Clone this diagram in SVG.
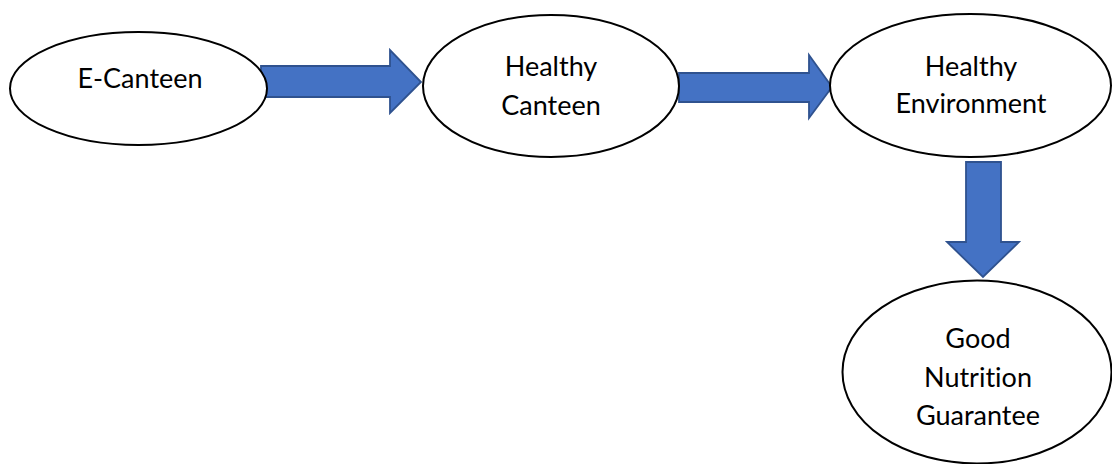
<svg xmlns="http://www.w3.org/2000/svg" width="1112" height="464" viewBox="0 0 1112 464">
<style>
.node ellipse{fill:#ffffff;stroke:#000000;stroke-width:2}
.node text{font-family:Lato,"Open Sans","Liberation Sans",sans-serif;font-size:27px;fill:#000000;text-anchor:middle;font-variant-ligatures:none;font-feature-settings:"liga" 0,"dlig" 0}
.arrow{fill:#4472C4;stroke:#2F528F;stroke-width:1.8;stroke-linejoin:miter}
</style>
<rect width="1112" height="464" fill="#ffffff"/>
<g id="connectors">
<polygon class="arrow" points="261,66 390,66 390,50 421,82 390,113 390,97 261,97"/>
<polygon class="arrow" points="679,73 809,73 809,55 832,87 809,118 809,102 679,102"/>
<polygon class="arrow" points="966,162 1001,162 1001,242 1019,242 983,277 947,242 966,242"/>
</g>
<g id="node-ecanteen" class="node">
<ellipse cx="138.5" cy="88.5" rx="128.5" ry="56.5"/>
<text x="140" y="88">E-Canteen</text>
</g>
<g id="node-healthy-canteen" class="node">
<ellipse cx="551" cy="86" rx="128" ry="71"/>
<text x="551" y="76">Healthy</text>
<text x="551" y="115">Canteen</text>
</g>
<g id="node-healthy-environment" class="node">
<ellipse cx="970.5" cy="85.5" rx="140.5" ry="71.5"/>
<text x="971" y="76">Healthy</text>
<text x="971" y="113">Environment</text>
</g>
<g id="node-good-nutrition" class="node">
<ellipse cx="977" cy="372" rx="134.5" ry="91.5"/>
<text x="978" y="348">Good</text>
<text x="978" y="387">Nutrition</text>
<text x="978" y="425">Guarantee</text>
</g>
</svg>
